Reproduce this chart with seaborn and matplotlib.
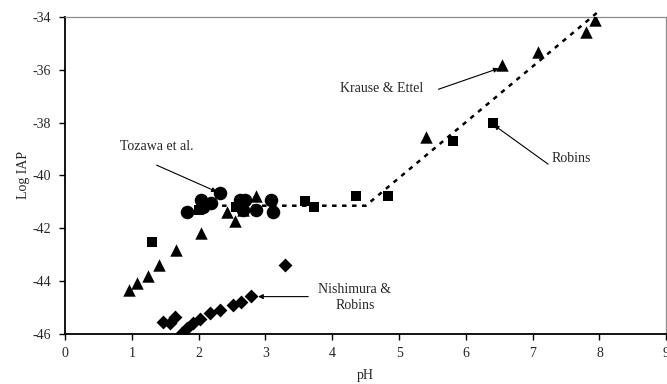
import matplotlib
matplotlib.use("Agg")
import matplotlib.pyplot as plt
import seaborn as sns
import pandas as pd

# Tozawa et al. (circles)
tozawa_ph = [1.82, 2.03, 2.06, 2.19, 2.32, 2.62, 2.69, 2.66, 2.86, 3.08, 3.11]
tozawa_iap = [-41.38, -40.93, -41.21, -41.06, -40.68, -40.93, -40.93, -41.30, -41.31, -40.93, -41.40]

# Robins (squares)
robins_ph = [1.30, 2.01, 2.56, 3.59, 3.73, 4.36, 4.84, 5.80, 6.40]
robins_iap = [-42.52, -41.30, -41.19, -40.96, -41.21, -40.77, -40.77, -38.68, -38.00]

# Krause & Ettel (triangles)
krause_ph = [0.96, 1.08, 1.24, 1.41, 1.66, 2.04, 2.42, 2.55, 2.66, 2.86, 5.41, 6.54, 7.08, 7.80, 7.93]
krause_iap = [-44.35, -44.10, -43.82, -43.40, -42.83, -42.20, -41.38, -41.73, -41.31, -40.78,
              -38.56, -35.81, -35.31, -34.55, -34.10]

# Nishimura & Robins (diamonds)
nishimura_ph = [1.47, 1.57, 1.65, 1.75, 1.82, 1.92, 2.02, 2.17, 2.32, 2.52, 2.64, 2.79, 3.29]
nishimura_iap = [-45.55, -45.62, -45.39, -45.97, -45.80, -45.62, -45.46, -45.21, -45.11,
                 -44.92, -44.79, -44.57, -43.40]

# Solubility trend line
trend_ph = [2.2, 4.5, 8.0]
trend_iap = [-41.15, -41.15, -33.75]

x_ticks = [0, 1, 2, 3, 4, 5, 6, 7, 8, 9]
y_ticks = [-46, -44, -42, -40, -38, -36, -34]

sns.set_style("white")
plt.rcParams["font.family"] = ["Liberation Serif", "DejaVu Serif"]

fig = plt.figure(figsize=(6.67, 3.84), dpi=100)
ax = fig.add_axes([0.0976, 0.1315, 0.9013, 0.8234])

trend = pd.DataFrame({"pH": trend_ph, "IAP": trend_iap})
sns.lineplot(data=trend, x="pH", y="IAP", ax=ax, color="black", lw=1.8,
             dashes=False, zorder=2)
ax.lines[-1].set_dashes((1.8, 2.2))
ax.lines[-1].set_clip_on(False)

series = [
    (tozawa_ph, tozawa_iap, "o", 95),
    (robins_ph, robins_iap, "s", 55),
    (krause_ph, krause_iap, "^", 80),
    (nishimura_ph, nishimura_iap, "D", 50),
]
for xs, ys, mk, sz in series:
    sns.scatterplot(x=xs, y=ys, ax=ax, marker=mk, s=sz, color="black",
                    edgecolor="black", linewidth=0, zorder=3)

ax.set_xlim(0, 9)
ax.set_ylim(-46, -34)
ax.set_xticks(x_ticks)
ax.set_yticks(y_ticks)
ax.set_xticklabels([str(t) for t in x_ticks], fontsize=10)
ax.set_yticklabels([str(t) for t in y_ticks], fontsize=10)
ax.tick_params(axis="both", direction="out", length=4, width=1, color="black",
               bottom=True, left=True, pad=6)

for side in ("left", "bottom"):
    ax.spines[side].set_color("black")
    ax.spines[side].set_linewidth(1.3)
for side in ("top", "right"):
    ax.spines[side].set_visible(True)
    ax.spines[side].set_color("#8c8c8c")
    ax.spines[side].set_linewidth(0.9)

ax.set_xlabel("pH", fontsize=10, labelpad=6)
ax.set_ylabel("Log IAP", fontsize=10, labelpad=2)

arrow = dict(arrowstyle="-|>", lw=0.8, color="black", mutation_scale=7,
             shrinkA=0, shrinkB=0)
label_kw = dict(fontsize=10, ha="center", va="center")

ax.text(1.37, -38.91, "Tozawa et al.", **label_kw)
ax.annotate("", xy=(2.27, -40.62), xytext=(1.37, -39.61), arrowprops=arrow)

ax.text(4.74, -36.69, "Krause & Ettel", **label_kw)
ax.annotate("", xy=(6.49, -35.94), xytext=(5.59, -36.73), arrowprops=arrow)

ax.text(7.58, -39.35, "Robins", **label_kw)
ax.annotate("", xy=(6.42, -38.09), xytext=(7.23, -39.57), arrowprops=arrow)

ax.text(4.34, -44.63, "Nishimura &\nRobins", linespacing=1.3, **label_kw)
ax.annotate("", xy=(2.89, -44.60), xytext=(3.64, -44.60), arrowprops=arrow)

fig.savefig("out.png", dpi=100)
